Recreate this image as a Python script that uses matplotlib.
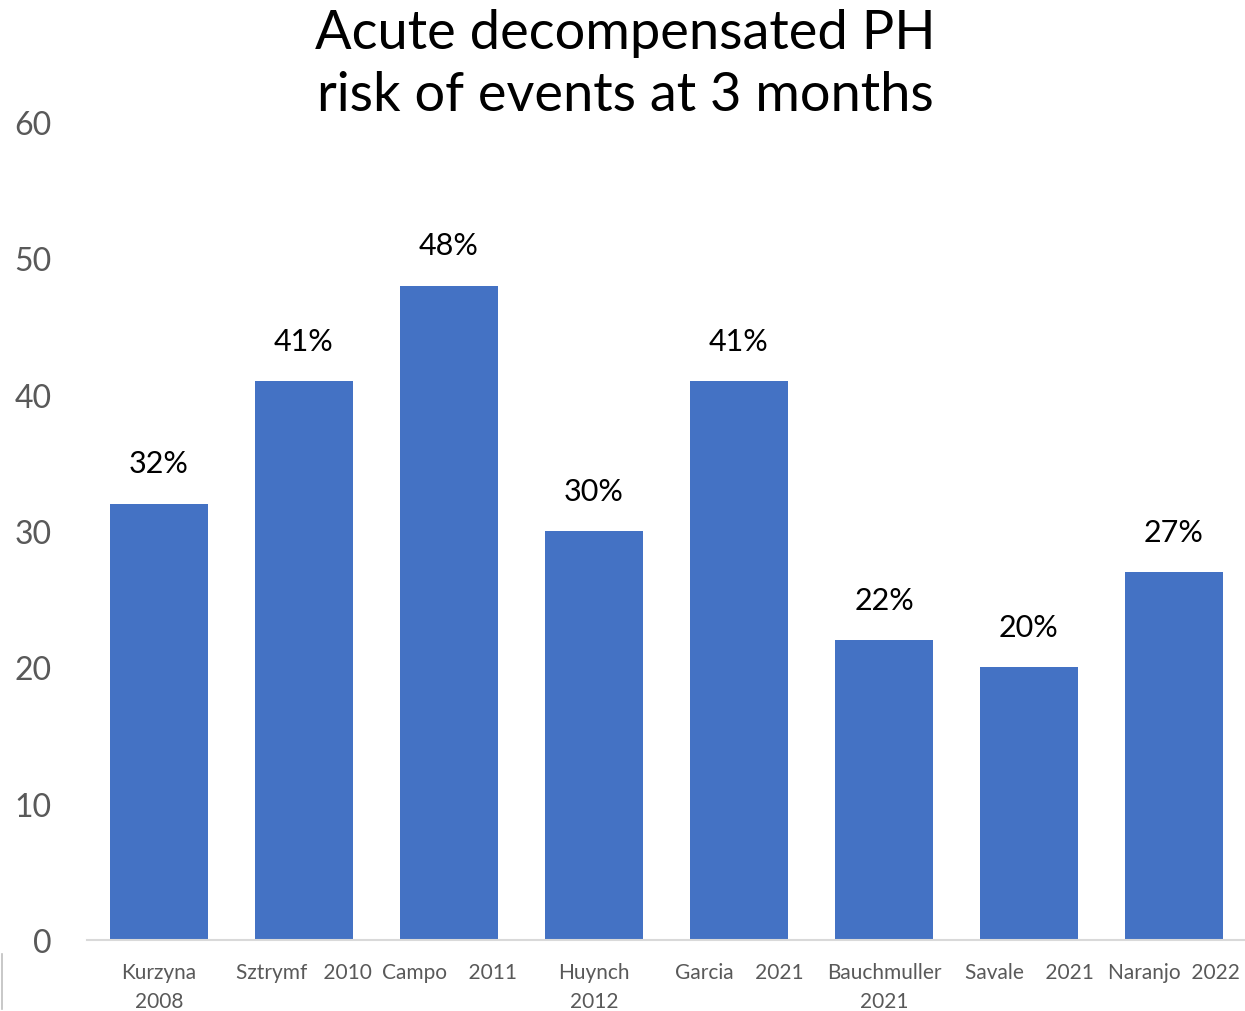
import matplotlib
matplotlib.use("Agg")
import matplotlib.pyplot as plt
from matplotlib.lines import Line2D

categories = ["Kurzyna\n2008", "Sztrymf   2010", "Campo    2011", "Huynch\n2012",
              "Garcia    2021", "Bauchmuller\n2021", "Savale    2021", "Naranjo  2022"]
values = [32, 41, 48, 30, 41, 22, 20, 27]
bar_labels = ["32%", "41%", "48%", "30%", "41%", "22%", "20%", "27%"]
yticks = [0, 10, 20, 30, 40, 50, 60]

W, H = 1245, 1012
fig = plt.figure(figsize=(W / 100, H / 100), dpi=100)
ax = fig.add_axes([86.5 / W, 1 - 941 / H, 1160 / W, 818 / H])

x = range(len(categories))
bars = ax.bar(x, values, width=0.675, color="#4472C4", zorder=2)
ax.bar_label(bars, labels=bar_labels, padding=19, fontsize=22, color="#000000", family="Lato")

ax.set_xlim(-0.5, len(categories) - 0.5)
ax.set_ylim(0, 60)
ax.set_yticks(yticks)
ax.set_yticklabels([str(t) for t in yticks], fontsize=23, color="#595959", family="Lato")
ax.set_xticks(list(x))
ax.set_xticklabels(categories, fontsize=15, color="#595959", family="Lato", linespacing=1.55)
ax.tick_params(axis="y", length=0, pad=25)
ax.tick_params(axis="x", length=0, pad=16)

for s in ["top", "right", "left"]:
    ax.spines[s].set_visible(False)
ax.spines["bottom"].set_color("#D9D9D9")
ax.spines["bottom"].set_linewidth(1.5)

fig.text(625 / W, 1 - 9 / H, "Acute decompensated PH\nrisk of events at 3 months",
         ha="center", va="top", fontsize=39, family="Lato",
         color="#000000", linespacing=1.32)

fig.add_artist(Line2D([2.5 / W, 2.5 / W], [1 - 955 / H, 1 - 1010 / H], color="#BFBFBF", lw=1.2))

fig.savefig("out.png", dpi=100)
